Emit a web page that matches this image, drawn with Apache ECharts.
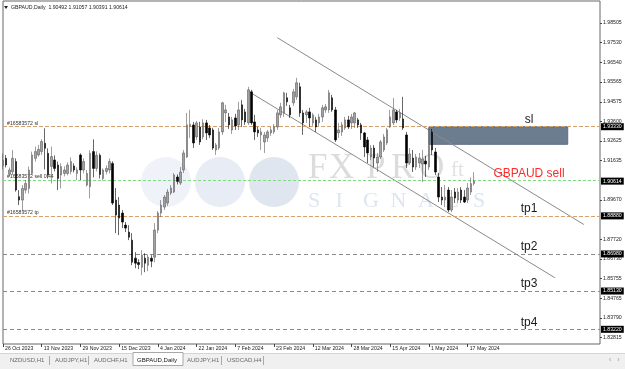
<!DOCTYPE html>
<html><head><meta charset="utf-8">
<script src="https://cdn.jsdelivr.net/npm/echarts@6/dist/echarts.min.js"></script>
<style>html,body{margin:0;padding:0;background:#fff;}#c{width:625px;height:369px;}</style>
</head><body><div id="c"></div>
<script>
// ---- data (GBPAUD Daily) ----
const opens = [1.9140,1.9175,1.9097,1.9108,1.9159,1.8984,1.8967,1.9017,1.9025,1.9100,
1.9175,1.9192,1.9209,1.9250,1.9200,1.9134,1.9167,1.9142,1.9092,1.9100,
1.9100,1.9109,1.9137,1.9100,1.9192,1.9117,1.9042,1.9034,1.9209,1.9125,
1.9190,1.9075,1.9110,1.9117,1.9150,1.8967,1.8942,1.8902,1.8842,1.8807,
1.8767,1.8677,1.8655,1.8632,1.8677,1.8642,1.8677,1.8682,1.8817,1.8902,
1.8932,1.8952,1.9002,1.9007,1.9082,1.9052,1.9117,1.9182,1.9335,1.9342,
1.9282,1.9332,1.9282,1.9352,1.9327,1.9317,1.9217,1.9227,1.9307,1.9402,
1.9382,1.9317,1.9377,1.9342,1.9442,1.9407,1.9352,1.9507,1.9357,1.9317,
1.9292,1.9257,1.9277,1.9302,1.9307,1.9332,1.9392,1.9402,1.9477,1.9427,
1.9452,1.9482,1.9532,1.9402,1.9392,1.9407,1.9352,1.9367,1.9352,1.9382,
1.9417,1.9417,1.9477,1.9417,1.9302,1.9307,1.9327,1.9367,1.9352,1.9352,
1.9367,1.9342,1.9302,1.9267,1.9182,1.9227,1.9152,1.9182,1.9217,1.9252,
1.9332,1.9352,1.9407,1.9377,1.9372,1.9292,1.9152,1.9177,1.9132,1.9152,
1.9147,1.9162,1.9132,1.9307,1.9207,1.9082,1.8982,1.8967,1.9017,1.8917,
1.9007,1.8967,1.9017,1.8982,1.8967,1.9007,1.90492];
const closes = [1.9165,1.9142,1.9117,1.9175,1.9017,1.8967,1.9025,1.9050,1.9117,1.9192,
1.9209,1.9220,1.9259,1.9225,1.9092,1.9184,1.9125,1.9075,1.9134,1.9117,
1.9142,1.9159,1.9117,1.9117,1.9117,1.9159,1.9100,1.9200,1.9125,1.9190,
1.9095,1.9117,1.9125,1.9159,1.8952,1.8892,1.8877,1.8857,1.8827,1.8782,
1.8657,1.8652,1.8645,1.8692,1.8652,1.8682,1.8662,1.8817,1.8902,1.8942,
1.8982,1.9007,1.9027,1.9092,1.9060,1.9107,1.9202,1.9342,1.9345,1.9252,
1.9352,1.9257,1.9352,1.9302,1.9292,1.9227,1.9242,1.9307,1.9452,1.9417,
1.9342,1.9367,1.9337,1.9417,1.9367,1.9357,1.9517,1.9352,1.9307,1.9302,
1.9307,1.9292,1.9307,1.9317,1.9332,1.9402,1.9432,1.9502,1.9457,1.9392,
1.9507,1.9552,1.9402,1.9352,1.9407,1.9377,1.9392,1.9332,1.9382,1.9427,
1.9432,1.9502,1.9417,1.9267,1.9317,1.9342,1.9367,1.9332,1.9382,1.9402,
1.9342,1.9302,1.9232,1.9202,1.9227,1.9177,1.9182,1.9257,1.9282,1.9317,
1.9382,1.9417,1.9367,1.9402,1.9327,1.9152,1.9197,1.9132,1.9182,1.9177,
1.9172,1.9147,1.9317,1.9217,1.9107,1.8982,1.8967,1.8982,1.8917,1.8982,
1.8977,1.9007,1.8967,1.8957,1.9027,1.9049,1.90614];
const lows = [1.9120,1.9130,1.9087,1.9092,1.9009,1.8942,1.8909,1.9000,1.9000,1.9092,
1.9159,1.9184,1.9192,1.9120,1.9075,1.9050,1.9110,1.9017,1.9025,1.9085,
1.9090,1.9095,1.9105,1.9067,1.9067,1.9100,1.9034,1.8975,1.9080,1.9110,
1.9075,1.9065,1.9095,1.9100,1.8942,1.8802,1.8792,1.8827,1.8807,1.8767,
1.8642,1.8627,1.8622,1.8592,1.8607,1.8612,1.8632,1.8657,1.8802,1.8882,
1.8917,1.8937,1.8992,1.9002,1.9045,1.9042,1.9102,1.9177,1.9277,1.9227,
1.9267,1.9242,1.9270,1.9267,1.9277,1.9217,1.9192,1.9217,1.9292,1.9357,
1.9322,1.9297,1.9317,1.9317,1.9332,1.9342,1.9342,1.9342,1.9267,1.9282,
1.9217,1.9202,1.9257,1.9287,1.9297,1.9317,1.9377,1.9382,1.9437,1.9377,
1.9437,1.9467,1.9382,1.9292,1.9352,1.9332,1.9337,1.9307,1.9337,1.9357,
1.9402,1.9402,1.9407,1.9257,1.9277,1.9287,1.9317,1.9322,1.9322,1.9327,
1.9327,1.9267,1.9182,1.9152,1.9167,1.9132,1.9107,1.9172,1.9207,1.9242,
1.9327,1.9342,1.9352,1.9362,1.9317,1.9127,1.9142,1.9107,1.9117,1.9127,
1.9057,1.9082,1.9117,1.9192,1.9092,1.8957,1.8942,1.8932,1.8907,1.8907,
1.8952,1.8952,1.8952,1.8952,1.8952,1.8992,1.90391];
const highs = [1.9200,1.9192,1.9130,1.9217,1.9175,1.9017,1.9042,1.9067,1.9134,1.9209,
1.9234,1.9242,1.9270,1.9325,1.9225,1.9234,1.9190,1.9159,1.9150,1.9135,
1.9155,1.9180,1.9150,1.9130,1.9200,1.9175,1.9117,1.9215,1.9270,1.9210,
1.9200,1.9125,1.9140,1.9175,1.9160,1.9027,1.8982,1.8917,1.8857,1.8842,
1.8802,1.8707,1.8672,1.8717,1.8702,1.8697,1.8692,1.8852,1.8912,1.8967,
1.8992,1.9022,1.9042,1.9102,1.9095,1.9132,1.9217,1.9402,1.9417,1.9357,
1.9362,1.9357,1.9370,1.9367,1.9342,1.9327,1.9252,1.9327,1.9457,1.9442,
1.9402,1.9382,1.9397,1.9457,1.9467,1.9422,1.9532,1.9517,1.9392,1.9332,
1.9327,1.9307,1.9317,1.9332,1.9347,1.9417,1.9452,1.9507,1.9502,1.9442,
1.9522,1.9577,1.9552,1.9417,1.9417,1.9427,1.9402,1.9382,1.9397,1.9442,
1.9447,1.9517,1.9492,1.9432,1.9352,1.9357,1.9382,1.9387,1.9397,1.9407,
1.9377,1.9352,1.9307,1.9282,1.9242,1.9242,1.9202,1.9267,1.9297,1.9327,
1.9417,1.9477,1.9417,1.9422,1.9482,1.9307,1.9227,1.9217,1.9197,1.9202,
1.9217,1.9187,1.9327,1.9322,1.9227,1.9102,1.9032,1.9042,1.9032,1.9017,
1.9027,1.9027,1.9032,1.9017,1.9052,1.9080,1.91057];

const priceTicks = [1.98505,1.97530,1.96540,1.95565,1.94575,1.93600,1.92625,1.91635,
1.89670,1.87720,1.86730,1.85755,1.84765,1.83790,1.82815];
const slLevel = 1.93330;
const entryLevel = 1.90650;
const bidLevel = 1.90614;
const tpLevels = [1.88880,1.86980,1.85130,1.83220];
const tpNames = ['tp1','tp2','tp3','tp4'];
const orderTexts = ['#16583572 sl','#16583572 sell 0.44','#16583572 tp'];
const tabs = ['NZDUSD,H1','AUDJPY,H1','AUDCHF,H1','GBPAUD,Daily','AUDJPY,H1','USDCAD,H4'];
const zoneIdx = [132, 175];
const zonePrices = [1.93330, 1.92452];
const upperChannel = [[85, 1.97771],[180, 1.88450]];
const lowerChannel = [[76, 1.95101],[171, 1.85795]];
const annotIdx = 163;

// trading-day calendar (weekdays, no Christmas / New Year bars), incl. right-shift space
const months=['Jan','Feb','Mar','Apr','May','Jun','Jul','Aug','Sep','Oct','Nov','Dec'];
const holidays=['2023-12-25','2024-01-01'];
const categories=[];
let d=new Date(Date.UTC(2023,9,26));
while(categories.length<186){
  const wd=d.getUTCDay(), iso=d.toISOString().slice(0,10);
  if(wd!==0&&wd!==6&&!holidays.includes(iso)) categories.push(d.getUTCDate()+' '+months[d.getUTCMonth()]+' '+d.getUTCFullYear());
  d=new Date(d.getTime()+86400000);
}
const nBars = opens.length;
const candles = opens.map((o,i)=>[o,closes[i],lows[i],highs[i]]);

const FONT='"Liberation Sans", Arial, sans-serif';
const SERIF='"Liberation Serif","DejaVu Serif",serif';
const ORANGE='#d6a16a', GREEN='#7fdc7f', GRAY='#8a8a8a';

const lineLevels=[
  {yAxis:slLevel, lineStyle:{color:ORANGE,type:[4,2],width:1}, label:{show:true,position:'insideStartTop',formatter:orderTexts[0]}},
  {yAxis:entryLevel, lineStyle:{color:GREEN,type:[3,2],width:1}, label:{show:true,position:'insideStartTop',formatter:orderTexts[1]}},
  {yAxis:tpLevels[0], lineStyle:{color:ORANGE,type:[4,2],width:1}, label:{show:true,position:'insideStartTop',formatter:orderTexts[2]}}
].concat(tpLevels.slice(1).map(v=>({yAxis:v,lineStyle:{color:GRAY,type:[4,3],width:1},label:{show:false}})));
const boxLevels=[slLevel,bidLevel].concat(tpLevels);
const boxLines=boxLevels.map(v=>({yAxis:v,lineStyle:{color:'rgba(0,0,0,0)',width:0,opacity:1},
  label:{show:true,position:'end',formatter:v.toFixed(5),opacity:1,
  backgroundColor:'#000',color:'#fff',padding:[1,2,1,2],distance:1,fontSize:5.2,fontFamily:FONT}}));

const annotations=[
  {text:'sl',level:slLevel,color:'#1a1a1a'},
  {text:'GBPAUD sell',level:bidLevel,color:'#ff2b2b'}
].concat(tpNames.map((t,i)=>({text:t,level:tpLevels[i],color:'#1a1a1a'})));

const chart=echarts.init(document.getElementById('c'),null,{renderer:'canvas'});

const graphics=[];
// watermark circles
[[166,182,'rgba(226,232,243,0.55)'],[220,182,'rgba(218,226,239,0.65)'],[274,182,'rgba(210,219,234,0.7)']].forEach(c=>{
  graphics.push({type:'circle',shape:{cx:c[0],cy:c[1],r:25},style:{fill:c[2]},z:-1,silent:true});
});
[['F',308],['X',329],['P',366],['R',391],['O',419]].forEach(l=>{
  graphics.push({type:'text',x:l[1],y:169,style:{text:l[0],font:'35px '+SERIF,fill:'rgba(196,196,196,0.6)',textVerticalAlign:'middle'},z:-1,silent:true});
});
graphics.push({type:'text',x:451,y:170,style:{text:'ft',font:'21px '+SERIF,fill:'rgba(200,200,200,0.55)',textVerticalAlign:'middle'},z:-1,silent:true});
['S','I','G','N','A','L','S'].forEach((ch,k)=>{
  graphics.push({type:'text',x:308+k*27.5,y:201,style:{text:ch,font:'22px '+SERIF,fill:'rgba(200,212,232,0.6)',textVerticalAlign:'middle'},z:-1,silent:true});
});
// header
graphics.push({type:'polygon',shape:{points:[[4,6],[8,6],[6,9]]},style:{fill:'#222'}});
graphics.push({type:'text',x:11,y:7.5,style:{text:'GBPAUD,Daily  '+[opens[nBars-1],highs[nBars-1],lows[nBars-1],closes[nBars-1]].map(v=>v.toFixed(5)).join(' '),
  font:'5.2px '+FONT,fill:'#222',textVerticalAlign:'middle'}});
// tab bar
graphics.push({type:'rect',shape:{x:0,y:353,width:625,height:16},style:{fill:'#f0f0f0'}});
graphics.push({type:'line',shape:{x1:0,y1:353.5,x2:625,y2:353.5},style:{stroke:'#d4d4d4',lineWidth:1}});
graphics.push({type:'rect',shape:{x:133,y:352.5,width:50,height:13},style:{fill:'#fff',stroke:'#a8a8a8',lineWidth:1}});
const tabX=[10,55,94,137,187,227];
tabs.forEach((t,i)=>{
  graphics.push({type:'text',x:tabX[i],y:360.5,style:{text:t,font:'6px '+FONT,fill:i===3?'#111':'#6a6a6a',textVerticalAlign:'middle'}});
});
[49,88,221,263].forEach(x=>graphics.push({type:'line',shape:{x1:x+0.5,y1:356,x2:x+0.5,y2:365},style:{stroke:'#a8a8a8',lineWidth:1}}));
graphics.push({type:'text',x:609,y:360,style:{text:'‹   ›',font:'7px '+FONT,fill:'#999',textVerticalAlign:'middle'}});

chart.setOption({
  animation:false,
  backgroundColor:'#fff',
  textStyle:{fontFamily:FONT},
  grid:{left:3,right:25,top:1,bottom:25,show:true,borderColor:'#666',borderWidth:1,backgroundColor:'transparent'},
  xAxis:{type:'category',data:categories,boundaryGap:false,
    axisLine:{show:false},
    axisTick:{show:true,interval:(i)=>i%12===0&&i<nBars,length:3,lineStyle:{color:'#444'}},
    axisLabel:{interval:(i)=>i%12===0&&i<nBars,fontSize:5.2,color:'#222',fontFamily:FONT,align:'left',margin:2,padding:[0,0,0,2],hideOverlap:false},
    splitLine:{show:false}},
  yAxis:{type:'value',position:'right',min:1.82487,max:1.99603,scale:true,
    axisLine:{show:false},splitLine:{show:false},
    axisTick:{show:true,customValues:priceTicks,length:2,lineStyle:{color:'#444'}},
    axisLabel:{customValues:priceTicks,formatter:v=>v.toFixed(5),fontSize:5.2,color:'#222',fontFamily:FONT,margin:3}},
  graphic:{elements:graphics},
  series:[
    {type:'candlestick',name:'GBPAUD',data:candles,barWidth:2,clip:false,z:5,
      itemStyle:{color:'#a2a2a2',color0:'#000',borderColor:'#5e5e5e',borderColor0:'#000',borderWidth:0.6},
      markArea:{silent:true,itemStyle:{color:'#6d7d90',borderColor:'#5f6f82',borderWidth:1},
        data:[[{coord:[categories[zoneIdx[0]],zonePrices[0]]},{coord:[categories[zoneIdx[1]],zonePrices[1]]}]]},
      markPoint:{silent:true,symbol:'circle',symbolSize:0,
        data:annotations.map(a=>({coord:[categories[annotIdx],a.level],
          label:{show:true,position:'inside',offset:[0,-7],formatter:a.text,fontSize:12,color:a.color,fontFamily:FONT}}))}
    },
    {type:'line',name:'levels',data:[],clip:false,z:6,silent:true,
      markLine:{silent:true,symbol:['none','none'],precision:5,animation:false,
        label:{fontSize:5.2,color:'#333',fontFamily:FONT,distance:[4,1]},
        data:lineLevels.concat(boxLines)}},
    {type:'line',name:'upper',data:upperChannel.map(p=>[categories[p[0]],p[1]]),symbol:'none',silent:true,z:4,
      lineStyle:{color:'#8a8a8a',width:1}},
    {type:'line',name:'lower',data:lowerChannel.map(p=>[categories[p[0]],p[1]]),symbol:'none',silent:true,z:4,
      lineStyle:{color:'#8a8a8a',width:1}}
  ]
});
</script></body></html>
